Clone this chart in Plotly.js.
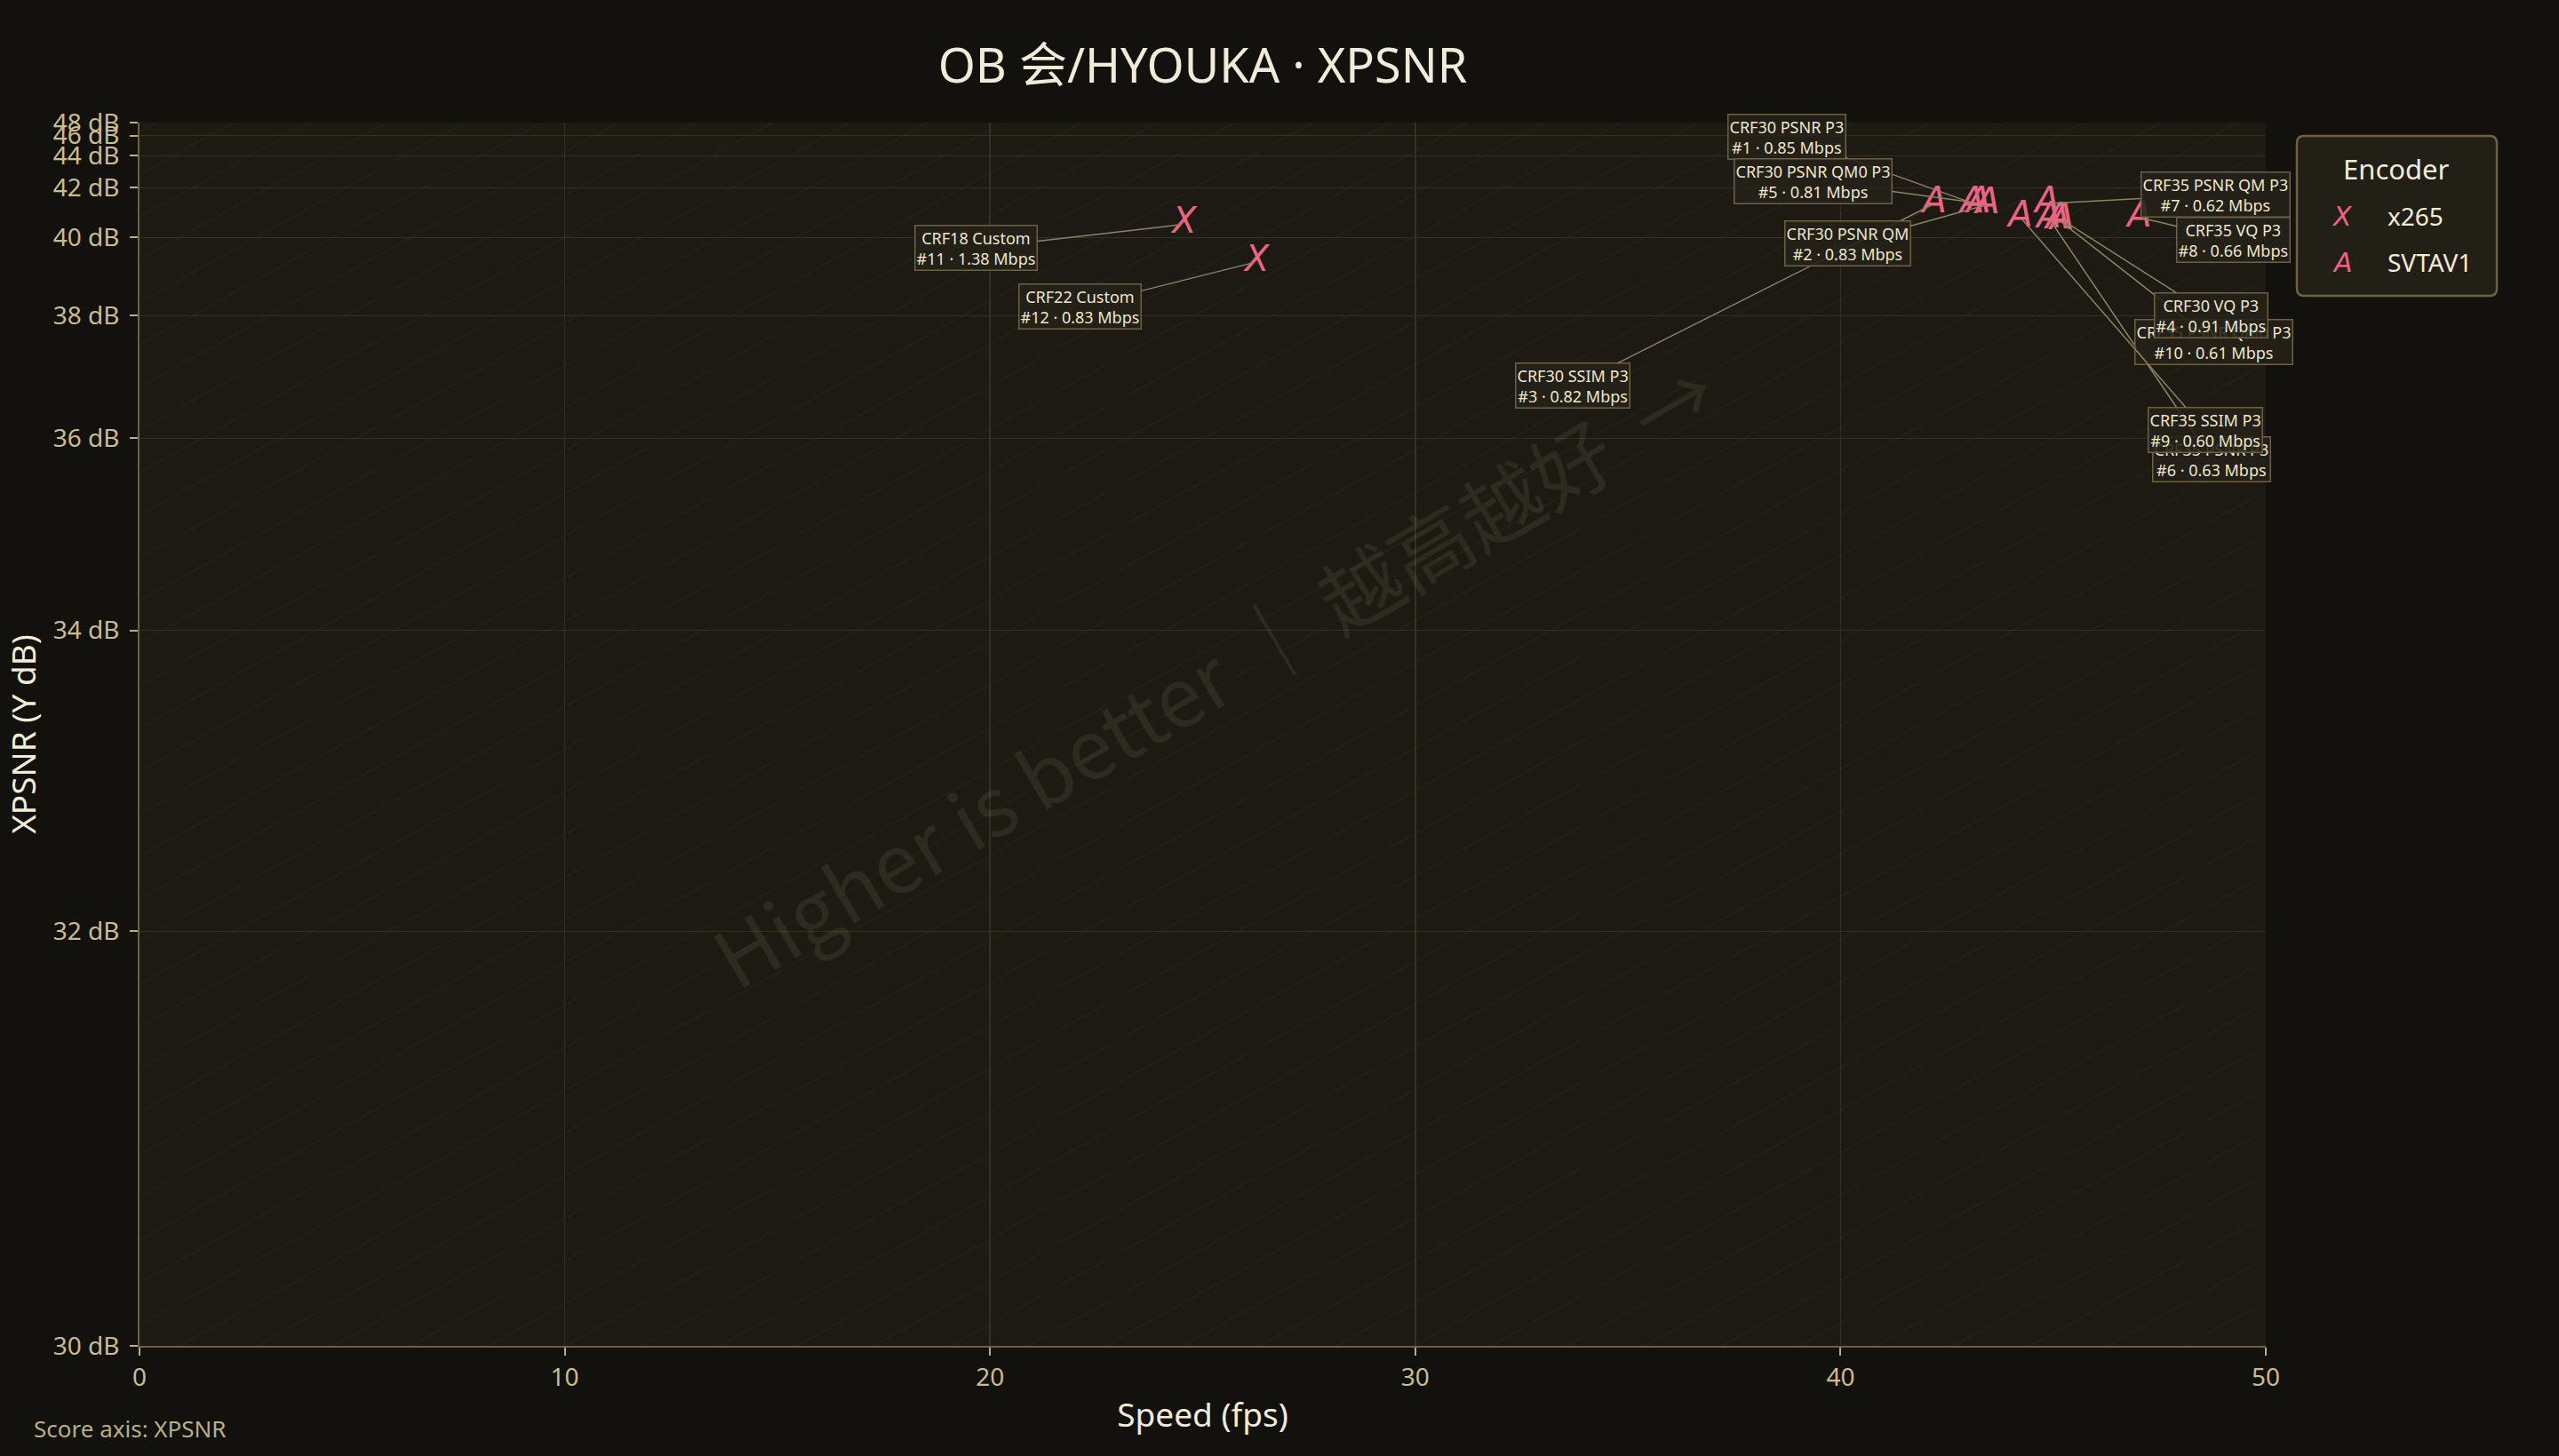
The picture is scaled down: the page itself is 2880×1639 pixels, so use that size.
<!DOCTYPE html>
<html>
<head>
<meta charset="utf-8">
<script src="https://cdn.plot.ly/plotly-3.0.1.min.js"></script>
<style>
html,body{margin:0;padding:0;background:#12110d;}
#chart{width:2880px;height:1639px;}
</style>
</head>
<body>
<div id="chart"></div>
<script>
// ---------------- DATA ----------------
const chartTitle = 'OB 会/HYOUKA · XPSNR';
const encoders = ['x265', 'SVTAV1'];
const encoderGlyphs = ['X', 'A'];

// x265 points
const x265Names = ['CRF18 Custom', 'CRF22 Custom'];
const x265Ranks = [11, 12];
const x265Mbps = [1.38, 0.83];
const x265Speed = [24.57, 26.28];
const x265Xpsnr = [40.45, 39.28];

// SVTAV1 points
const svtNames = ['CRF30 SSIM P3', 'CRF30 PSNR P3', 'CRF30 PSNR QM0 P3', 'CRF30 PSNR QM',
                  'CRF35 PSNR QM P3', 'CRF35 PSNR P3', 'CRF35 PSNR QM0 P3', 'CRF35 SSIM P3',
                  'CRF30 VQ P3', 'CRF35 VQ P3'];
const svtRanks = [3, 1, 5, 2, 7, 6, 10, 9, 4, 8];
const svtMbps = [0.82, 0.85, 0.81, 0.83, 0.62, 0.63, 0.61, 0.60, 0.91, 0.66];
const svtSpeed = [42.21, 43.10, 43.25, 43.46, 44.86, 44.90, 45.11, 44.23, 45.21, 47.03];
const svtXpsnr = [41.26, 41.28, 41.28, 41.22, 41.26, 40.67, 40.64, 40.70, 40.61, 40.70];

// axis ticks
const xTicks = [0, 10, 20, 30, 40, 50];
const yMinDb = 30.2, yMaxDb = 48;
const yTickDb = [yMinDb, 32, 34, 36, 38, 40, 42, 44, 46, 48];

// ---------------- LAYOUT / STYLE ----------------
const W = 2880, H = 1639;
const M = {l: 157, r: 330, t: 138, b: 124};
const plotW = W - M.l - M.r, plotH = H - M.t - M.b;

// score-axis transform (compressive at high dB)
const K_DB = 0.2247;
const T = db => -Math.exp(-K_DB * (db - 30));
const yLo = T(yMinDb), yHi = T(yMaxDb);

// label offsets (pixels, box centre relative to point), keyed by rank
const labelOffsets = {
  1: [-209, -75], 2: [-158, 44], 3: [-407, 205], 4: [168, 107], 5: [-186, -25],
  6: [183, 271], 7: [189, -10], 8: [106, 25], 9: [208, 239], 10: [176, 138],
  11: [-234, 27], 12: [-199, 50]
};

const PINK = '#ec6484';
const BG_PAPER = '#12110d', BG_PLOT = '#1c1a13';
const AXIS = '#6e6142', GRID = '#36311f', TICK = '#c8bc90', TITLE = '#f1ebd8';
const glyphFont = {family: 'DejaVu Sans', size: 40, color: PINK, style: 'italic'};

const px2px = px => (px - M.l) / plotW;          // pixel x -> paper x
const py2py = py => (M.t + plotH - py) / plotH;  // pixel y -> paper y

// ---------------- TRACES ----------------
const traces = [
  {
    type: 'scatter', mode: 'text', name: encoders[0],
    x: x265Speed, y: x265Xpsnr.map(T),
    text: x265Speed.map(() => encoderGlyphs[0]),
    textposition: 'middle center', textfont: glyphFont,
    hoverinfo: 'skip', showlegend: false, cliponaxis: false
  },
  {
    type: 'scatter', mode: 'text', name: encoders[1],
    x: svtSpeed, y: svtXpsnr.map(T),
    text: svtSpeed.map(() => encoderGlyphs[1]),
    textposition: 'middle center', textfont: glyphFont,
    hoverinfo: 'skip', showlegend: false, cliponaxis: false
  }
];

// ---------------- SHAPES ----------------
const shapes = [];
// faint diagonal guide lines
const slope = 0.553, spacing = 48;
const pxToX = px => (px - M.l) / plotW * 50;
const pyToY = py => yLo + (M.t + plotH - py) / plotH * (yHi - yLo);
for (let i = -30; i <= 30; i++) {
  const y0 = M.t + plotH - 23 - spacing * i;
  const x0 = M.l, x1 = M.l + plotW;
  const y1 = y0 - slope * plotW;
  shapes.push({
    type: 'line', xref: 'x', yref: 'y', layer: 'below',
    x0: pxToX(x0), x1: pxToX(x1), y0: pyToY(y0), y1: pyToY(y1),
    line: {color: 'rgba(200,185,140,0.06)', width: 1.2}
  });
}
// legend box (rounded)
function roundRect(x0, y0, x1, y1, r) {
  const X = px2px, Y = py2py;
  return `M${X(x0 + r)},${Y(y0)} L${X(x1 - r)},${Y(y0)} Q${X(x1)},${Y(y0)} ${X(x1)},${Y(y0 + r)} ` +
         `L${X(x1)},${Y(y1 - r)} Q${X(x1)},${Y(y1)} ${X(x1 - r)},${Y(y1)} ` +
         `L${X(x0 + r)},${Y(y1)} Q${X(x0)},${Y(y1)} ${X(x0)},${Y(y1 - r)} ` +
         `L${X(x0)},${Y(y0 + r)} Q${X(x0)},${Y(y0)} ${X(x0 + r)},${Y(y0)} Z`;
}
shapes.push({
  type: 'path', xref: 'paper', yref: 'paper', layer: 'above',
  path: roundRect(2585, 153, 2810, 333, 8),
  fillcolor: '#221f17', line: {color: AXIS, width: 2.5}
});

// ---------------- ANNOTATIONS ----------------
const annotations = [];
// watermark
annotations.push({
  xref: 'paper', yref: 'paper', x: 0.505, y: 0.552, xanchor: 'center', yanchor: 'middle',
  showarrow: false,
  text: 'Higher is better ｜ 越高越好  →', textangle: -30.5,
  font: {family: 'Noto Sans CJK SC', size: 92, color: 'rgba(200,185,140,0.10)'}
});

function labelAnn(x, y, name, rank, mbps) {
  const off = labelOffsets[rank];
  return {
    x: x, y: T(y), xref: 'x', yref: 'y',
    text: name + '<br>#' + rank + ' · ' + mbps.toFixed(2) + ' Mbps',
    showarrow: true, arrowhead: 0, arrowwidth: 1.5, arrowcolor: '#8d8262', standoff: 3,
    ax: off[0], ay: off[1],
    font: {family: 'Noto Sans', size: 18, color: '#eee6cc'},
    bgcolor: 'rgba(36,33,24,0.88)', bordercolor: AXIS, borderwidth: 1.5, borderpad: 1,
    align: 'center'
  };
}
x265Speed.forEach((s, i) => annotations.push(labelAnn(s, x265Xpsnr[i], x265Names[i], x265Ranks[i], x265Mbps[i])));
svtSpeed.forEach((s, i) => annotations.push(labelAnn(s, svtXpsnr[i], svtNames[i], svtRanks[i], svtMbps[i])));

// manual legend
annotations.push({
  xref: 'paper', yref: 'paper', x: px2px(2697), y: py2py(190), showarrow: false,
  xanchor: 'center', yanchor: 'middle',
  text: 'Encoder', font: {family: 'Noto Sans', size: 31, color: TITLE}
});
const legendRows = [243, 295];
encoders.forEach((e, i) => {
  annotations.push({
    xref: 'paper', yref: 'paper', x: px2px(2636), y: py2py(legendRows[i]), showarrow: false,
    xanchor: 'center', yanchor: 'middle',
    text: encoderGlyphs[i], font: {family: 'DejaVu Sans', size: 30, color: PINK, style: 'italic'}
  });
  annotations.push({
    xref: 'paper', yref: 'paper', x: px2px(2685), y: py2py(legendRows[i]), showarrow: false,
    xanchor: 'left', yanchor: 'middle', text: e, font: {family: 'Noto Sans', size: 28, color: TITLE}
  });
});
// footnote
annotations.push({
  xref: 'paper', yref: 'paper', x: px2px(36), y: py2py(1608), showarrow: false,
  xanchor: 'left', yanchor: 'middle',
  text: 'Score axis: XPSNR', font: {family: 'Noto Sans', size: 26, color: '#b9ae86'}
});

// ---------------- LAYOUT ----------------
const layout = {
  width: W, height: H,
  margin: M,
  paper_bgcolor: BG_PAPER, plot_bgcolor: BG_PLOT,
  showlegend: false,
  title: {
    text: chartTitle, xref: 'paper', x: 0.5, xanchor: 'center',
    yref: 'container', y: 1 - 74 / H, yanchor: 'middle',
    font: {family: 'Noto Sans, Noto Sans CJK SC', size: 54, color: TITLE}
  },
  xaxis: {
    range: [0, 50], tickvals: xTicks, ticktext: xTicks.map(String),
    showgrid: true, gridcolor: GRID, gridwidth: 1.5, zeroline: false,
    showline: true, linecolor: AXIS, linewidth: 2,
    ticks: 'outside', ticklen: 9, tickwidth: 2, tickcolor: '#b9ae86',
    tickfont: {family: 'Noto Sans', size: 28, color: TICK},
    title: {text: 'Speed (fps)', standoff: 14, font: {family: 'Noto Sans', size: 37, color: TITLE}}
  },
  yaxis: {
    range: [yLo, yHi], tickvals: yTickDb.map(T), ticktext: yTickDb.map(v => Math.round(v) + ' dB'),
    showgrid: true, gridcolor: GRID, gridwidth: 1.5, zeroline: false,
    showline: true, linecolor: AXIS, linewidth: 2,
    ticks: 'outside', ticklen: 9, tickwidth: 2, tickcolor: '#b9ae86', ticklabelstandoff: 6,
    tickfont: {family: 'Noto Sans', size: 28, color: TICK},
    title: {text: 'XPSNR (Y dB)', standoff: 8, font: {family: 'Noto Sans', size: 37, color: TITLE}}
  },
  shapes: shapes,
  annotations: annotations
};

Plotly.newPlot('chart', traces, layout, {displayModeBar: false, staticPlot: true});
</script>
</body>
</html>
